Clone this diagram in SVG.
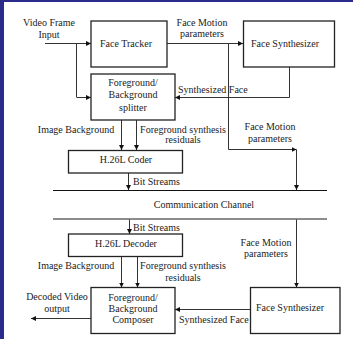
<svg xmlns="http://www.w3.org/2000/svg" width="353" height="339" viewBox="0 0 353 339">
<defs>
<marker id="ah" viewBox="0 0 6 6" refX="6" refY="3" markerWidth="5" markerHeight="5" orient="auto" markerUnits="userSpaceOnUse">
<path d="M0,0 L6,3 L0,6 Z" fill="#111"/>
</marker>
</defs>
<style>
text{font-family:"Liberation Serif","Times New Roman",serif;font-size:10px;fill:#222}
.c{text-anchor:middle}
.box{fill:#fff;stroke:#222;stroke-width:1.3}
.ln{fill:none;stroke:#333;stroke-width:1}
.ar{fill:none;stroke:#333;stroke-width:1;marker-end:url(#ah)}
</style>
<rect x="0" y="0" width="353" height="339" fill="#fff"/>
<rect x="0" y="0" width="4" height="339" fill="#2b2b8c"/>
<rect x="0" y="0" width="353" height="2" fill="#2b2b8c"/>

<g id="connectors">
<path class="ar" d="M45,43.5 H91"/>
<path class="ln" d="M76.5,43.5 V97"/>
<path class="ar" d="M76.5,97.5 H91"/>
<path class="ar" d="M167,43.5 H243"/>
<path class="ar" d="M228.5,43.5 V149.5 H296.5"/>
<path class="ar" d="M296.5,149.5 V190"/>
<path class="ar" d="M289.5,67 V97.5 H175"/>
<path class="ar" d="M121.5,120 V150"/>
<path class="ar" d="M136.5,120 V150"/>
<path class="ar" d="M128.5,173 V190"/>
<path class="ln" d="M53,190.5 H327" style="stroke:#111"/>
<path class="ln" d="M53,219 H327" style="stroke:#666;stroke-width:1.5"/>
<path class="ar" d="M129.5,219.5 V234"/>
<path class="ar" d="M121.5,257 V287.5"/>
<path class="ar" d="M137.5,257 V287.5"/>
<path class="ar" d="M91,318.5 H31"/>
<path class="ar" d="M296.5,219.5 V287.5"/>
<path class="ar" d="M250.5,309.5 H175"/>
</g>

<g id="labels">
<text class="c" x="49" y="26">Video Frame</text>
<text class="c" x="49" y="38">Input</text>
<text class="c" x="202" y="26">Face Motion</text>
<text class="c" x="202" y="37">parameters</text>
<text x="178" y="93">Synthesized Face</text>
<text class="c" x="76" y="132.5">Image Background</text>
<text class="c" x="183" y="132.5">Foreground synthesis</text>
<text class="c" x="183" y="143">residuals</text>
<text class="c" x="270" y="129.5">Face Motion</text>
<text class="c" x="270" y="141.5">parameters</text>
<text x="133" y="185">Bit Streams</text>
<text class="c" x="204" y="208">Communication Channel</text>
<text x="133" y="230.5">Bit Streams</text>
<text class="c" x="266" y="246">Face Motion</text>
<text class="c" x="266" y="257">parameters</text>
<text class="c" x="76" y="269">Image Background</text>
<text class="c" x="183" y="269">Foreground synthesis</text>
<text class="c" x="183" y="280.5">residuals</text>
<text class="c" x="57" y="299.5">Decoded Video</text>
<text class="c" x="57" y="311.5">output</text>
<text x="179" y="322.5">Synthesized Face</text>
</g>

<g id="face-tracker">
<rect class="box" x="91" y="21" width="76" height="46"/>
<text class="c" x="126" y="47">Face Tracker</text>
</g>
<g id="face-synthesizer-top">
<rect class="box" x="243.5" y="21" width="91" height="46"/>
<text class="c" x="285" y="47">Face Synthesizer</text>
</g>
<g id="splitter">
<rect class="box" x="91" y="74" width="84" height="46"/>
<text class="c" x="133" y="85.5">Foreground/</text>
<text class="c" x="133" y="98">Background</text>
<text class="c" x="133" y="110.5">splitter</text>
</g>
<g id="h26l-coder">
<rect class="box" x="68.5" y="150.5" width="114" height="22.5"/>
<text class="c" x="126" y="162.5">H.26L Coder</text>
</g>
<g id="h26l-decoder">
<rect class="box" x="68.5" y="234" width="114" height="22.5"/>
<text class="c" x="126" y="246.5">H.26L Decoder</text>
</g>
<g id="composer">
<rect class="box" x="91" y="287.5" width="84" height="46"/>
<text class="c" x="133" y="300.5">Foreground/</text>
<text class="c" x="133" y="311.5">Background</text>
<text class="c" x="133" y="322.5">Composer</text>
</g>
<g id="face-synthesizer-bottom">
<rect class="box" x="250.5" y="287.5" width="89.5" height="46"/>
<text class="c" x="290" y="311">Face Synthesizer</text>
</g>
</svg>
